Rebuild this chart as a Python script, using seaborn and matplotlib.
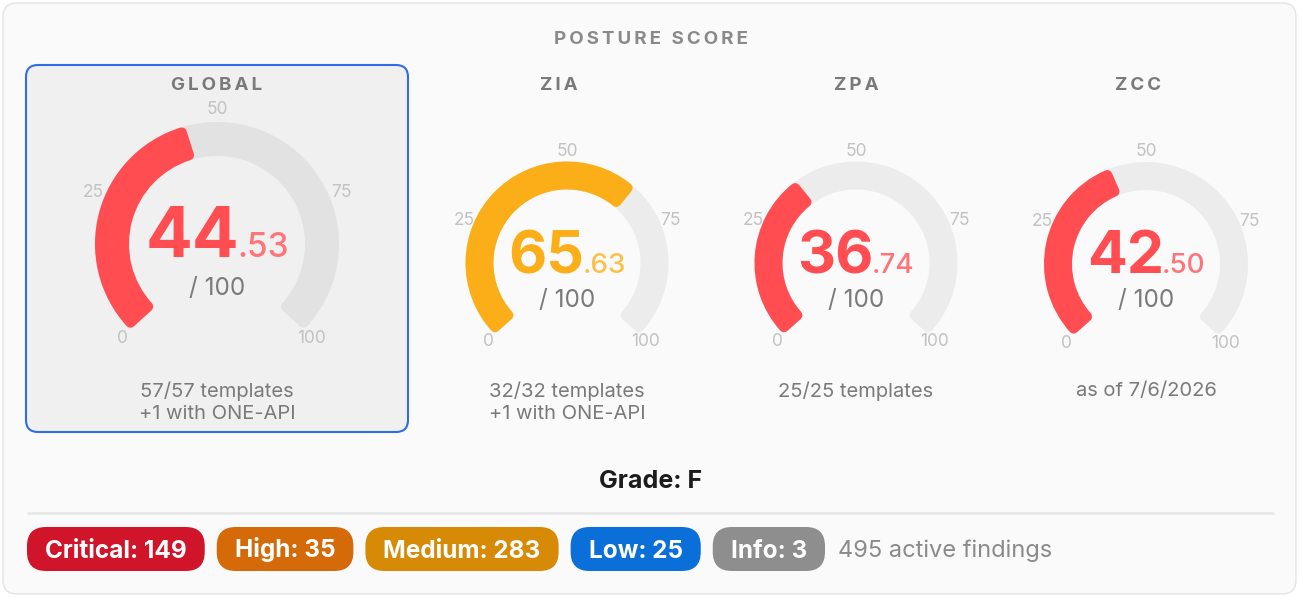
import matplotlib
matplotlib.use("Agg")
import numpy as np
import seaborn as sns
import matplotlib.pyplot as plt
from matplotlib.patches import FancyBboxPatch
from matplotlib.colors import to_rgb

sources = ["GLOBAL", "ZIA", "ZPA", "ZCC"]
scores = [44.53, 65.63, 36.74, 42.50]
notes = [
    ["57/57 templates", "+1 with ONE-API"],
    ["32/32 templates", "+1 with ONE-API"],
    ["25/25 templates"],
    ["as of 7/6/2026"],
]
tick_values = [0, 25, 50, 75, 100]
grade = "F"
severity = ["Critical", "High", "Medium", "Low", "Info"]
counts = [149, 35, 283, 25, 3]

# styling
fill_colors = ["#ff4d52", "#fbae17", "#ff4d52", "#ff4d52"]
track_colors = ["#e2e2e2", "#ececec", "#ececec", "#ececec"]
severity_colors = ["#d0142a", "#d56a09", "#d78a06", "#0a6fd9", "#8e8e8e"]

W, H = 1299, 597
centers = [(217, 244), (567, 263), (856, 263), (1146, 264)]
radii = [122, 101.5, 101.5, 102]
thick = [34, 28, 28, 28]
title_x = [217, 559, 856, 1138]
big_size = [50, 42.5, 42.5, 42.5]
frac_size = [24, 20, 20, 20]
score_base = [257, 273, 273, 273]
over_y = [288, 301, 301, 301]
cap_px = 10  # rounding of the arc ends, in pixels

sns.set_theme(style="white")
plt.rcParams["font.family"] = ["Inter", "DejaVu Sans"]

fig = plt.figure(figsize=(W / 100, H / 100), dpi=100, facecolor="white")
ax = fig.add_axes([0, 0, 1, 1])
ax.set_xlim(0, W)
ax.set_ylim(H, 0)
ax.axis("off")
renderer = fig.canvas.get_renderer()


def lighten(c, amt=0.22):
    r, g, b = to_rgb(c)
    return (r + (1 - r) * amt, g + (1 - g) * amt, b + (1 - b) * amt)


def spaced(s):
    return "\u2009".join(s)


# card + highlighted global panel
ax.add_patch(FancyBboxPatch((3, 3), 1293, 591, boxstyle="round,pad=0,rounding_size=14",
                            fc="#fafafa", ec="#e4e4e4", lw=1))
ax.add_patch(FancyBboxPatch((26, 65), 382, 367, boxstyle="round,pad=0,rounding_size=12",
                            fc="#f0f0f0", ec="#2f6ee6", lw=1.5))

ax.text(651, 39, spaced("POSTURE SCORE"), ha="center", va="center", fontsize=13.5,
        fontweight="bold", color="#8a8a8a")

lw_pt = cap_px * 72 / 100
for i, name in enumerate(sources):
    cx, cy = centers[i]
    R, t = radii[i], thick[i]
    L = R * 1.35
    gax = fig.add_axes([(cx - L) / W, 1 - (cy + L) / H, 2 * L / W, 2 * L / H], projection="polar")
    gax.set_theta_zero_location("N")
    gax.set_theta_direction(-1)
    gax.set_ylim(0, L)
    gax.axis("off")
    gax.patch.set_alpha(0)

    def ang(v):
        return np.radians(-135 + 2.7 * v)

    pad = cap_px / 2
    da = pad / (R - t / 2)
    for v, col in [(100, track_colors[i]), (scores[i], fill_colors[i])]:
        gax.bar(ang(0) + da, t - cap_px, width=ang(v) - ang(0) - 2 * da, bottom=R - t + pad,
                align="edge", color=col, edgecolor=col, linewidth=lw_pt, joinstyle="round")
    for v in tick_values:
        gax.text(ang(v), R * 1.1, str(v), ha="center", va="center", fontsize=12.5,
                 color="#c2c2c2", clip_on=False)

    ax.text(title_x[i], 85, spaced(name), ha="center", va="center", fontsize=13.5,
            fontweight="bold", color="#7a7a7a")

    whole, frac = f"{scores[i]:.2f}".split(".")
    t1 = ax.text(0, score_base[i], whole, ha="left", va="baseline", fontsize=big_size[i],
                 fontweight="bold", color=fill_colors[i])
    t2 = ax.text(0, score_base[i], "." + frac, ha="left", va="baseline", fontsize=frac_size[i],
                 fontweight="medium", color=lighten(fill_colors[i]))
    w1 = t1.get_window_extent(renderer).width
    w2 = t2.get_window_extent(renderer).width
    x0 = cx - (w1 + w2) / 2 + 1
    t1.set_x(x0)
    t2.set_x(x0 + w1 - 2)

    ax.text(cx, over_y[i], "/ 100", ha="center", va="center", fontsize=17.5, color="#7a7a7a")
    for j, line in enumerate(notes[i]):
        ax.text(cx, 391 + 23 * j, line, ha="center", va="center", fontsize=14.5, color="#7a7a7a")

ax.text(651, 481, f"Grade: {grade}", ha="center", va="center", fontsize=18,
        fontweight="bold", color="#1c1c1c")
ax.plot([27, 1274], [513, 513], color="#e8e8e8", lw=2, solid_capstyle="butt")

# severity pills
x = 27
for name, n, col in zip(severity, counts, severity_colors):
    lab = ax.text(0, 557.5, f"{name}: {n}", ha="center", va="baseline", fontsize=17.5,
                  fontweight="bold", color="white", zorder=3)
    w = lab.get_window_extent(renderer).width + 36
    ax.add_patch(FancyBboxPatch((x, 527), w, 44, boxstyle="round,pad=0,rounding_size=19",
                                fc=col, ec="none", zorder=2))
    lab.set_x(x + w / 2)
    x += w + 12

ax.text(x + 1, 557.5, f"{sum(counts)} active findings", ha="left", va="baseline",
        fontsize=17, color="#8a8a8a")

fig.savefig("out.png", dpi=100, facecolor="white")
